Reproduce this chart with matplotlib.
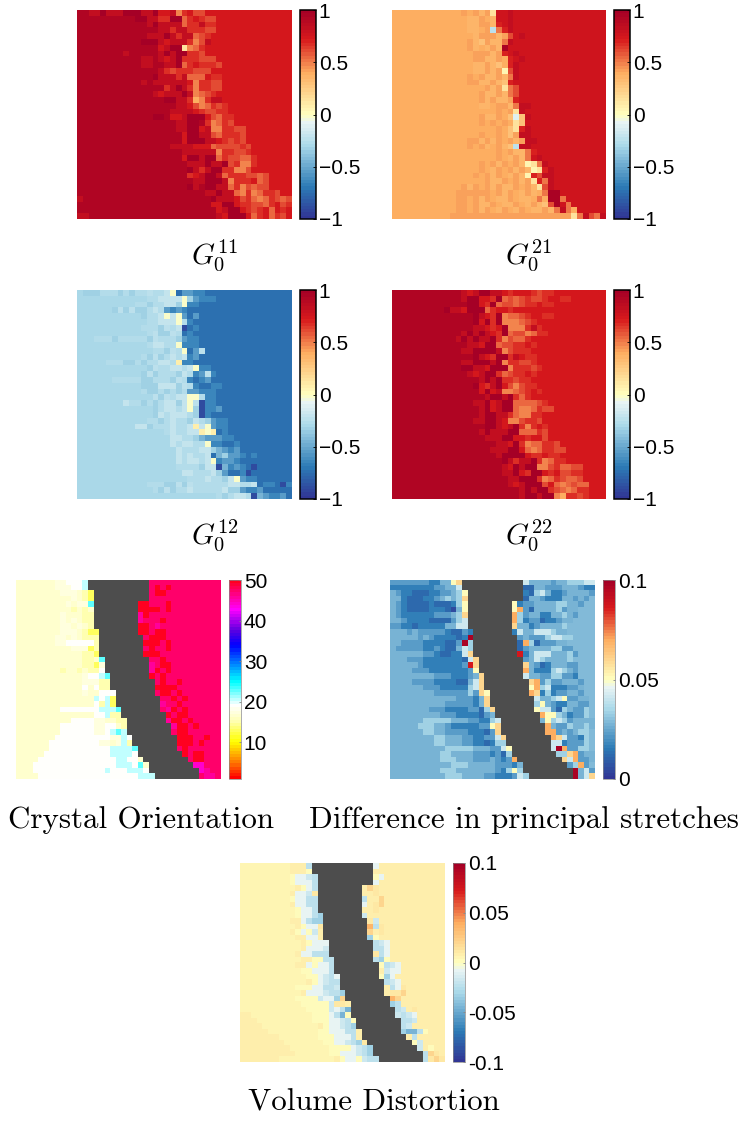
import numpy as np
import matplotlib
matplotlib.use('Agg')
import matplotlib.pyplot as plt
from matplotlib.colors import LinearSegmentedColormap

plt.rcParams['mathtext.fontset'] = 'cm'
plt.rcParams['font.family'] = ['Liberation Sans', 'DejaVu Sans']

W, H = 743, 1121
N_ROWS, N_COLS = 36, 37

# value of each letter, one table per group of G panels
G_WARM = {'A': .98, 'a': .93, 'B': .84, 'C': .72, 'D': .67, 'E': .62, 'F': .55, 'g': .5, 'G': .47, 'H': .38,
          'I': .13}
G21_LEVELS = {'A': .95, 'B': .82, 'C': .76, 'D': .7, 'E': .62, 'F': .52, 'g': .41, 'G': .39, 'H': .36,
              'h': .3, 'I': .15, 'J': .05, 'K': -.1, 'L': -.22}
G12_LEVELS = {'I': .08, 'J': -.02, 'K': -.2, 'L': -.26, 'l': -.24, 'M': -.33, 'N': -.45,
              'O': -.55, 'P': -.65, 'Q': -.72, 'R': -.88}

# (first column that differs from the left value, cells read along the row)
G11_ROWS = [(2, 'BBABBBAAABBACCBGDCEEC'), (10, 'AABBDDAAFDCDEEC'), (12, 'BABBBBFDDBDD'), (14, 'BBDBBDDDEE'),
            (12, 'BBBABDBBFEDC'), (11, 'AAABCBBBDGEBC'), (14, 'CBAAIGFDC'), (8, 'BaaaaaBABAADDEC'),
            (11, 'BBaBCBADDDEEE'), (11, 'BBaaBBAFDCDDDE'), (14, 'BDEDDDEEEC'), (13, 'ABBBDBFFFCDD'),
            (11, 'BaBBBBBBCGDDEE'), (15, 'DBABDGDDEE'), (13, 'BCBBBABGFEDC'), (15, 'AABBDHGDBBC'),
            (17, 'BBCEGFDEDC'), (16, 'BBBBCDEEDD'), (13, 'AAaCCBAAACEFDDC'), (17, 'BBAAaDGFDE'),
            (16, 'aBBAACBGGDDEE'), (18, 'CAABBEFDDDEC'), (18, 'CAAABBCDEDEC'), (16, 'BBBBCCCFEEEEDE'),
            (17, 'aBBBBBBGDDEEDC'), (18, 'CAABAAFDEEFFD'), (19, 'BBBABBAEDGGDC'), (18, 'aABDBAADDGGEC'),
            (19, 'DCBAABFDDDEEFE'), (19, 'aBBAAABGDDDCFE'), (19, 'ABaAABBFDGEFEE'), (22, 'BBABBFGDGFDDE'),
            (0, 'B' + 'a' * 22 + 'ABBBCEDFGFDEFE'), (23, 'CCAACDDEEFDCED'), (24, 'CBAACDEDCFCD'),
            (0, 'BB' + 'a' * 22 + 'BCAAACFDCFDE')]

G21_ROWS = [(12, 'gGgHgICCB'), (13, 'HHgGHCCB'), (13, 'HHggHDCB'), (13, 'HHGgLFDB'),
            (14, 'HgggHgECB'), (13, 'gHhgHHFBC'), (13, 'gHGHgHAC'), (14, 'gggHgDCB'),
            (14, 'ggHHgGDCB'), (13, 'GHHgHhGDB'), (14, 'HHgHgJEBC'), (13, 'gGgHHgHFB'),
            (13, 'ggHHgHhDC'), (15, 'GgHgIFEC'), (15, 'gHHgHFEC'), (15, 'gHgHHgDC'),
            (15, 'HHGggHFBB'), (16, 'GGgGgIBC'), (14, 'GgHHgGhKhBC'), (15, 'gGgGgGIhCC'),
            (16, 'GGgGhIDB'), (15, 'gGGgGhgBB'), (13, 'ggHgHgGgHgBB'), (13, 'gGgHGgHhLBB'),
            (18, 'gGgHHFDC'), (18, 'gGHgHFCB'), (15, 'gGgHgGgHJIFB'), (15, 'gGHgGgHgHJIDB'),
            (14, 'gGgHgGHgHJDEBB'), (16, 'gHHgGgHgIDFB'), (11, 'GgHgGgHgHHgGgHIEBC'), (11, 'ggggggGgHgGHgHGFAAC'),
            (11, 'ggGgHgGHHgGHHGFGAAFC'), (11, 'ggGgHHgGHHgGHgHhEACF'), (11, 'ggGgHgGHgGHgGHHgHFBFG'),
            (10, 'gggggggggggggggggggggIFBEFB')]

G12_ROWS = [(1, 'MMMLLLMLMLLlLLKJQOOPP'), (12, 'LLKKKKJMOPPPQQ'), (10, 'LLMLLKKMJPPQQQ'), (6, 'MlMlMMLKLOPOPQQ'),
            (11, 'MLLKJKJOQOQQ'), (12, 'LLKKKJLPQQQ'), (11, 'LLLMlLKRQPQQQ'), (12, 'LlMMlLQPQQ'),
            (3, 'LLLMLLLLLMlLLLMOPPQ'), (12, 'LKKLLJPPPQQ'), (13, 'LLMlLJQOlQ'), (11, 'LMlMLKLKPOQ'),
            (5, 'LLLMMLMLLKKLIPPQQ'), (12, 'MlLLKKLKJPPQ'), (11, 'MlMLLLMKLPOlP'), (6, 'LLLLLMMLLLMlLPQPOQQ'),
            (11, 'MMMKKKMlLPQQPP'), (11, 'LMMLMLMLOOPPP'), (13, 'lMlLKKJJLPPQQ'), (8, 'KLLMLMLKKMKJlRPPQ'),
            (13, 'MLKKLKJMRPPOQ'), (13, 'MKLKKKLMRPQ'), (12, 'LLMLKLLMKLMOPP'), (10, 'KKMLLLKLLKIKJOPPQ'),
            (15, 'LKLLKKIJIQPQQ'), (16, 'KKLLMNOOOPPQ'), (16, 'KLKKLLJPPQQPQ'), (17, 'KLLLKKMNOPOQ'),
            (17, 'KLKLLKQNMOOPQP'), (17, 'KLKKLKJPOOPQ'), (17, 'LLLLMKKRNPOPQR'), (18, 'KKLLLKMOQQPR'),
            (19, 'LLLKLLMKJOPPQ'), (12, 'LLLMMlMlLLLLLLKKLLKQPPQRP'), (13, 'LMlMLLKLLLLLKMMOPPO'), (24, 'LMLKKLRNOPPO')]

G22_ROWS = [(12, 'BCBAABBCDCCCDEDDCCC'), (12, 'BAACCDAFEFEDEEDCCDD'), (13, 'AACDAFEEFEDDCDD'), (9, 'ABBCAAAFDCCDCC'),
            (14, 'ABCDAGFFEDCCDD'), (14, 'ACADAGGGFEDC'), (14, 'BBCDCAGGGDBD'), (12, 'BABABCDAFEEGFDD'),
            (11, 'BABABBADGEFFDC'), (13, 'BBCAAFEEDDCD'), (12, 'BBAAAABGEDDDCC'), (14, 'ABCDAADBCDD'),
            (12, 'BBAAABAGDDEED'), (12, 'AABBCAAAGDDDEDC'), (13, 'BCBAADFEDDCD'), (15, 'BABADDEDD'),
            (14, 'ACDBACEGEDDC'), (15, 'CACBGGFEDCD'), (16, 'BAABADFDC'), (14, 'BBACBAAFFFFED'),
            (15, 'BACBAAFGGFDEE'), (15, 'BAABBDFGGDD'), (14, 'BBAABCGGEDDE'), (16, 'AABCBADGDCD'),
            (15, 'BABBBAAFFFDE'), (16, 'BBBAACCDCCE'), (18, 'BBCADGFFDDE'), (17, 'BBBAACFGFDDEE'),
            (18, 'BAAAACDDCDDC'), (19, 'ABDBBADGFDDCC'), (19, 'BCABAAGGEDFFEE'), (19, 'BBACDAACDCEEDD'),
            (20, 'BBAAADGFDEFFE'), (20, 'BCBAAAECFGFEFF'), (22, 'BABAADEFGFDDC'), (22, 'BAABAAGHDDEDC')]

# shared grey band of the three lower panels (first grey column, first column after it)
BAND_LEFT = [13, 13, 14, 14, 14, 14, 14, 14, 14, 15, 15, 15, 15, 15, 16, 16, 16, 17,
             17, 17, 18, 18, 18, 19, 19, 20, 20, 20, 21, 21, 22, 22, 23, 24, 24, 25]
BAND_RIGHT = [24, 24, 24, 24, 22, 22, 22, 22, 22, 22, 23, 23, 23, 23, 24, 24, 24, 24,
              25, 25, 25, 26, 26, 26, 27, 27, 28, 28, 29, 29, 29, 30, 31, 32, 33, 33]

CRYSTAL_LEVELS = {'a': 13, 'b': 15.5, 'c': 17, 'd': 17.7, 'e': 18.7, 'f': 20.5, 'g': 22.5,
                  'm': 47.5, 'n': 49.5, 'p': 45.5, 'q': 44.5}
CRYSTAL_LEFT = ['ddeeef', 'dddeef', 'dddcba', 'ccdcba', 'cdcddg', 'ccbcbc', 'dcccbb', 'dcdcbb', 'ddcdcb',
                'cdddcbaa', 'ddcdcbbb', 'ddeeeeeb', 'cccdddab', 'cccccbba', 'cccbbcg', 'ccccbbad', 'bccbcbbe',
                'cdeefg', 'ccdddbb', 'ccecebb', 'cdcceee', 'cccfefa', 'cccebfa', 'eeeeeeefffg', 'cccceefbb',
                'ddccbb', 'ddeecb', 'ddefgf', 'eeddfe', 'ddcdfb', 'eeffffg', 'eeffffe', 'eeeffeec',
                'eefffegc', 'feeefffe', 'eeeefff']
CRYSTAL_RIGHT = ['m', 'mnmn', 'mnnmmm', 'mmmm', 'nnmmmn', 'nnnnmn', 'pnmm', 'pmmmn', 'nnmpm', 'nnmnn',
                 'mnnnm', 'nnnmn', 'mnmmn', 'nnnmmm', 'mmnm', 'pmnn', 'pnmnm', 'nmnm', 'mnmmn', 'nnnnm',
                 'mnnmn', 'mmnmn', 'pmmnm', 'mpnmn', 'nmnnm', 'pnnmn', 'pnnmn', 'mnnmm', 'nnnmmn', 'nnnmn',
                 'mnmm', 'nmnn', 'mnnm', 'qqm', 'qpm', 'mpp']
CRYSTAL_WHITE_FROM = [99] * 24 + [10, 10, 8, 8, 7, 6, 6, 5, 4, 3, 3, 4]

DIFF_LEVELS = {'0': .006, '1': .012, '2': .017, '3': .022, '4': .027, '5': .033, '6': .042,
               '7': .05, '8': .06, '9': .07, 'R': .087, 'X': .098}
DIFF_LEFT = ['3333333224478', '2222222233446', '3221112233457', '4211122345458', '3211112111257',
             '3211112221047', '3222222333458', '4322221111356', '33221222224466', '343333321132',
             '44343222212X', '33332222113X5', '33333223211465', '4444332112268', '3332222222168',
             '44322222223R8', '333222222237', '4444333222348', '3333222211468', '4433322222568',
             '44443333335387', '444444333248', '4444433333248', '444333222233158', '4443332222134',
             '55555444332256', '555443222223378', '55443333222138', '5544433223368', '5544433221255',
             '555554443367', '5544443332315', '55544433343239', '5554444433324', '555444444432575',
             '555444433222365']
DIFF_RIGHT = ['6444434455566', '11443334443221', '2156422344443', '144322244343', '7233444455443',
              '793144445344', '953442244543', '95233122344', '8442344445', '2644666544',
              '3433356655', '195133344', '1344445533', 'R2466644453', '346544445',
              '8431244433', '9422256543', '6443355332', '8935334443', '7956222334',
              '9825233443', '6445673344', '5743224433', '7663154335', '977542335',
              '4756534444', '943354454', '99343455', '9863325', '6623335',
              '6X93355', '5589344', '869334', '3593', 'X463', 'X468']

VOL_LEVELS = {'o': .035, 'a': .02, 'b': .012, 'c': .007, 'd': .002, 'e': -.008, 'f': -.016,
              'g': -.024, 'h': -.032, 'i': -.045, 'j': -.06}
VOL_LEFT = ['cccg', 'cccd', 'deefg', 'deeeg', 'cdeg', 'ceefb', 'deegg', 'ceegg', 'deeg', 'deegh',
            'cceghh', 'cdeeb', 'cdedfc', 'cceec', 'cdeee', 'ceeef', 'ceeggg', 'ccddgg', 'ccedeeg', 'ddeeeg',
            'ddefge', 'cdefgg', 'dddeeggf', 'ceeefggh', 'ddddfeeha', 'dddddfbbc', 'ddddfegi', 'dddegid',
            'dddeefgd', 'cdeefgh', 'ddeeeggc', 'dddeeegc', 'ddeefghb', 'ddddefgh', 'ddeeefgh', 'cdeedfgg']
VOL_RIGHT = ['ec', 'cc', 'dec', 'ec', 'cab', 'ccb', 'gcca', 'ecba', 'ccb', 'fcc',
             'bfcc', 'ogbc', 'acbc', 'hdcc', 'gfec', 'ggec', 'bgec', 'ghdcc', 'dgfe', 'cfeec',
             'dhec', 'gfec', 'cgeb', 'cbbac', 'oacc', 'hgcc', 'gfcb', 'fgfec', 'ggfc', 'gfcc',
             'hiigd', 'cgcc', 'dfcc', 'fcd', 'gab', 'gbab']
VOL_WARM_COLS = {27: 2, 28: 3, 29: 4, 30: 5, 31: 7, 32: 8, 33: 9, 34: 10, 35: 7}

# colormaps, anchors
RED_BLUE_ANCHORS = [(-1, '#313695'), (-.7, '#2c7bb6'), (-.3, '#abd9e9'), (-.08, '#e8f4f4'), (0, '#ffffbf'),
                    (.4, '#fdae61'), (.73, '#d7191c'), (1, '#a50026')]
CRYSTAL_ANCHORS = [(1, '#ff0000'), (5, '#ff8000'), (10, '#ffff00'), (15, '#ffffb0'), (19, '#ffffff'),
                   (25, '#00ffff'), (34, '#0000ff'), (38, '#6000e0'), (43, '#ff00ff'), (50, '#ff0020')]


def rect(x0, y0, x1, y1):
    return [x0 / W, 1 - y1 / H, (x1 - x0) / W, (y1 - y0) / H]


def g_grid(rows, levels, left, right):
    grid = np.full((N_ROWS, N_COLS), right)
    for r, (start, cells) in enumerate(rows):
        grid[r, :start] = left
        for c, ch in enumerate(cells):
            if start + c < N_COLS:
                grid[r, start + c] = levels[ch]
    return grid


def band_grid(left_rows, right_rows, levels, left_base, right_base):
    grid = np.full((N_ROWS, N_COLS), np.nan)
    for r in range(N_ROWS):
        a, b = BAND_LEFT[r], BAND_RIGHT[r]
        grid[r, :a] = left_base
        grid[r, b:] = right_base
        cells = left_rows[r][-a:]
        for c, ch in enumerate(cells):
            grid[r, a - len(cells) + c] = levels[ch]
        for c, ch in enumerate(right_rows[r][:N_COLS - b]):
            grid[r, b + c] = levels[ch]
    return grid


def anchored_cmap(name, anchors):
    lo, hi = anchors[0][0], anchors[-1][0]
    return LinearSegmentedColormap.from_list(name, [((v - lo) / (hi - lo), c) for v, c in anchors], N=64)


crystal = band_grid(CRYSTAL_LEFT, CRYSTAL_RIGHT, CRYSTAL_LEVELS, 17, 47.5)
for r in range(N_ROWS):
    # paler wedge in the lower left
    end = BAND_LEFT[r] - len(CRYSTAL_LEFT[r])
    if CRYSTAL_WHITE_FROM[r] < end:
        crystal[r, CRYSTAL_WHITE_FROM[r]:end] = 18.7

diff = band_grid(DIFF_LEFT, DIFF_RIGHT, DIFF_LEVELS, .027, .029)
volume = band_grid(VOL_LEFT, VOL_RIGHT, VOL_LEVELS, .004, .007)
for r, n in VOL_WARM_COLS.items():
    volume[r, :n] = .009

red_blue = anchored_cmap('redblue', RED_BLUE_ANCHORS)
crystal_cmap = anchored_cmap('crystal', CRYSTAL_ANCHORS)
G_TICKS = [-1, -.5, 0, .5, 1]
G_LABELS = ['\u22121', '\u22120.5', '0', '0.5', '1']

# grid, colormap, limits, ticks, tick labels, x0, y0, width, title, title centre x, title centre y, dark frame
panels = [
    (g_grid(G11_ROWS, G_WARM, .93, .72), red_blue, -1, 1, G_TICKS, G_LABELS, 77, 10, 215, r'$G_0^{11}$', 215, 255, True),
    (g_grid(G21_ROWS, G21_LEVELS, .39, .77), red_blue, -1, 1, G_TICKS, G_LABELS, 392, 10, 214, r'$G_0^{21}$', 529, 255, True),
    (g_grid(G12_ROWS, G12_LEVELS, -.3, -.72), red_blue, -1, 1, G_TICKS, G_LABELS, 77, 290, 215, r'$G_0^{12}$', 215, 535, True),
    (g_grid(G22_ROWS, G_WARM, .93, .72), red_blue, -1, 1, G_TICKS, G_LABELS, 392, 290, 214, r'$G_0^{22}$', 529, 535, True),
    (crystal, crystal_cmap, 1, 50, [10, 20, 30, 40, 50], ['10', '20', '30', '40', '50'], 16, 580, 205,
     'Crystal Orientation', 141, 820, False),
    (diff, red_blue, 0, .1, [0, .05, .1], ['0', '0.05', '0.1'], 390, 580, 205,
     'Difference in principal stretches', 524, 820, False),
    (volume, red_blue, -.1, .1, [-.1, -.05, 0, .05, .1], ['-0.1', '-0.05', '0', '0.05', '0.1'], 240, 863, 205,
     'Volume Distortion', 374, 1103, False),
]

fig = plt.figure(figsize=(W / 100, H / 100), dpi=100)
for grid, cmap, vmin, vmax, ticks, labels, x0, y0, width, title, tx, ty, dark in panels:
    height = 209 if dark else 199
    cmap = cmap.copy()
    cmap.set_bad('#4d4d4d')
    ax = fig.add_axes(rect(x0, y0, x0 + width, y0 + height))
    im = ax.imshow(np.ma.masked_invalid(grid), cmap=cmap, vmin=vmin, vmax=vmax,
                   interpolation='nearest', aspect='auto')
    ax.axis('off')

    cx0 = x0 + width + 8
    cax = fig.add_axes(rect(cx0, y0, cx0 + (16 if dark else 12), y0 + height))
    cb = fig.colorbar(im, cax=cax)
    cb.set_ticks(ticks)
    cb.set_ticklabels(labels)
    cb.minorticks_off()
    cb.ax.tick_params(length=2 if dark else 1.5, width=.6, direction='in', pad=2,
                      labelsize=15, color='black' if dark else '#888888')
    cb.outline.set_linewidth(1.1 if dark else .5)
    cb.outline.set_edgecolor('black' if dark else '#888888')

    if title.startswith('$'):
        fig.text(tx / W, 1 - ty / H, title, fontsize=21, ha='center', va='center')
    else:
        fig.text(tx / W, 1 - ty / H, title, fontsize=22.3, family='cmr10', ha='center', va='center')

fig.savefig('out.png', dpi=100)
